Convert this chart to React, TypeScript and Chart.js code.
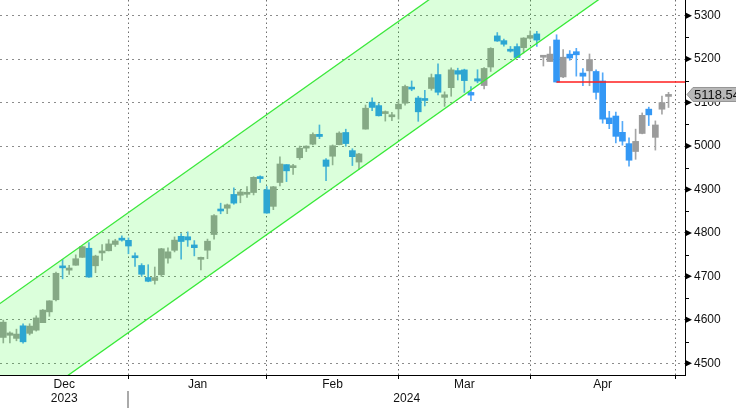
import React, { useEffect, useRef } from 'react';
import { Chart, registerables } from 'chart.js';

Chart.register(...registerables);

// ---- data ----
const dates = [
  '2023-12-01','2023-12-04','2023-12-05','2023-12-06','2023-12-07','2023-12-08','2023-12-11','2023-12-12','2023-12-13','2023-12-14',
  '2023-12-15','2023-12-18','2023-12-19','2023-12-20','2023-12-21','2023-12-22','2023-12-26','2023-12-27','2023-12-28','2023-12-29',
  '2024-01-02','2024-01-03','2024-01-04','2024-01-05','2024-01-08','2024-01-09','2024-01-10','2024-01-11','2024-01-12','2024-01-16',
  '2024-01-17','2024-01-18','2024-01-19','2024-01-22','2024-01-23','2024-01-24','2024-01-25','2024-01-26','2024-01-29','2024-01-30','2024-01-31',
  '2024-02-01','2024-02-02','2024-02-05','2024-02-06','2024-02-07','2024-02-08','2024-02-09','2024-02-12','2024-02-13','2024-02-14',
  '2024-02-15','2024-02-16','2024-02-20','2024-02-21','2024-02-22','2024-02-23','2024-02-26','2024-02-27','2024-02-28','2024-02-29',
  '2024-03-01','2024-03-04','2024-03-05','2024-03-06','2024-03-07','2024-03-08','2024-03-11','2024-03-12','2024-03-13','2024-03-14',
  '2024-03-15','2024-03-18','2024-03-19','2024-03-20','2024-03-21','2024-03-22','2024-03-25','2024-03-26','2024-03-27','2024-03-28',
  '2024-04-01','2024-04-02','2024-04-03','2024-04-04','2024-04-05','2024-04-08','2024-04-09','2024-04-10','2024-04-11','2024-04-12',
  '2024-04-15','2024-04-16','2024-04-17','2024-04-18','2024-04-19','2024-04-22','2024-04-23','2024-04-24','2024-04-25','2024-04-26','2024-04-29',
];

const openPrices = [
  4559.43, 4564.37, 4557.25, 4586.23, 4568.84, 4576.20, 4593.39, 4618.30, 4646.20, 4721.04, 4714.23, 4725.58, 4743.72, 4764.73, 4724.29, 4753.92, 4758.86, 4773.45, 4786.44, 4782.88,
  4745.20, 4725.07, 4697.42, 4690.57, 4703.70, 4741.93, 4759.94, 4792.13, 4791.18, 4772.35, 4739.13, 4760.10, 4796.28, 4853.42, 4856.80, 4888.56, 4886.66, 4888.91, 4892.95, 4925.89, 4899.19,
  4861.11, 4916.06, 4957.19, 4950.16, 4973.05, 4995.16, 5004.17, 5026.83, 4967.94, 4976.44, 5003.14, 5031.13, 4989.32, 4963.03, 5038.83, 5100.92, 5093.00, 5074.60, 5067.20, 5085.36,
  5098.51, 5130.99, 5110.52, 5108.03, 5132.38, 5164.46, 5111.96, 5134.30, 5173.49, 5175.14, 5123.31, 5154.77, 5139.09, 5181.69, 5253.43, 5242.48, 5219.52, 5228.85, 5226.31, 5248.03,
  5257.97, 5204.29, 5194.37, 5244.00, 5158.95, 5211.37, 5217.03, 5167.88, 5172.95, 5171.51, 5149.67, 5064.59, 5068.97, 5031.52, 5005.44, 4987.33, 5028.85, 5084.86, 5019.88, 5084.65, 5114.13,
];
const highPrices = [
  4599.39, 4572.37, 4578.56, 4590.74, 4590.92, 4609.23, 4623.71, 4643.93, 4709.69, 4738.57, 4725.53, 4749.52, 4768.69, 4778.01, 4748.71, 4772.94, 4784.72, 4785.39, 4793.30, 4788.43,
  4754.33, 4729.29, 4726.78, 4721.49, 4764.54, 4765.47, 4790.80, 4798.50, 4802.40, 4782.34, 4744.23, 4785.79, 4842.07, 4868.41, 4866.48, 4903.68, 4898.15, 4906.69, 4929.31, 4931.09, 4906.75,
  4906.97, 4975.29, 4957.19, 4957.77, 4999.89, 5000.40, 5030.06, 5048.39, 4971.30, 5002.52, 5032.72, 5038.70, 4993.71, 4983.21, 5094.39, 5111.06, 5097.66, 5080.69, 5077.37, 5104.99,
  5140.33, 5149.67, 5114.54, 5127.97, 5165.62, 5189.26, 5124.66, 5179.87, 5179.14, 5176.85, 5136.86, 5175.60, 5180.31, 5226.19, 5261.10, 5246.09, 5229.09, 5235.16, 5249.26, 5264.85,
  5263.95, 5208.34, 5228.75, 5256.00, 5222.18, 5219.57, 5224.81, 5178.43, 5211.78, 5175.03, 5168.43, 5079.84, 5077.96, 5056.66, 5019.02, 5038.84, 5076.12, 5089.48, 5057.75, 5114.62, 5123.49,
];
const lowPrices = [
  4546.72, 4546.71, 4551.68, 4546.50, 4565.22, 4574.06, 4593.39, 4608.09, 4643.23, 4694.34, 4704.69, 4725.58, 4743.72, 4697.82, 4708.35, 4736.77, 4758.45, 4768.90, 4780.98, 4751.99,
  4722.67, 4699.71, 4687.53, 4682.11, 4699.82, 4730.35, 4756.20, 4739.58, 4768.98, 4747.12, 4714.82, 4740.57, 4785.87, 4844.05, 4844.37, 4865.94, 4869.34, 4881.47, 4887.40, 4916.27, 4845.15,
  4853.52, 4907.99, 4918.09, 4934.88, 4969.05, 4987.09, 5002.52, 5016.83, 4920.31, 4956.45, 5002.64, 4999.52, 4955.02, 4946.00, 5038.83, 5081.46, 5068.91, 5057.29, 5058.35, 5061.89,
  5094.16, 5127.18, 5056.82, 5092.22, 5128.21, 5117.50, 5091.14, 5114.48, 5151.88, 5123.30, 5104.35, 5145.47, 5131.59, 5171.55, 5240.66, 5229.87, 5216.09, 5203.42, 5213.92, 5245.82,
  5229.20, 5184.05, 5194.37, 5146.54, 5157.21, 5197.35, 5160.78, 5138.70, 5138.77, 5107.94, 5052.47, 5039.83, 5007.25, 5001.89, 4953.56, 4969.40, 5027.96, 5047.02, 4990.58, 5073.14, 5088.65,
];
const closePrices = [
  4594.63, 4569.78, 4567.18, 4549.34, 4585.59, 4604.37, 4622.44, 4643.70, 4707.09, 4719.55, 4719.19, 4740.56, 4768.37, 4698.35, 4746.75, 4754.63, 4774.75, 4781.58, 4783.35, 4769.83,
  4742.83, 4704.81, 4688.68, 4697.24, 4763.54, 4756.50, 4783.45, 4780.24, 4783.83, 4765.98, 4739.21, 4780.94, 4839.81, 4850.43, 4864.60, 4868.55, 4894.16, 4890.97, 4927.93, 4924.97, 4845.65,
  4906.19, 4958.61, 4942.81, 4954.23, 4995.06, 4997.91, 5026.61, 5021.84, 4953.17, 5000.62, 5029.73, 5005.57, 4975.51, 4981.80, 5087.03, 5088.80, 5069.53, 5078.18, 5069.76, 5096.27,
  5137.08, 5130.95, 5078.65, 5104.76, 5157.36, 5123.69, 5117.94, 5175.27, 5165.31, 5150.48, 5117.09, 5149.42, 5178.51, 5224.62, 5241.53, 5234.18, 5218.19, 5203.58, 5248.49, 5254.35,
  5243.77, 5205.81, 5211.49, 5147.21, 5204.34, 5202.39, 5209.91, 5160.64, 5199.06, 5123.41, 5061.82, 5051.41, 5022.21, 5011.12, 4967.23, 5010.60, 5070.55, 5071.63, 5048.42, 5099.96, 5116.17,
];

const monthLabels = ['Dec', 'Jan', 'Feb', 'Mar', 'Apr'];
const monthEndIndex = [19, 40, 60, 80, 102];
const yearLabels = ['2023', '2024'];
const yTickValues = [4500, 4600, 4700, 4800, 4900, 5000, 5100, 5200, 5300];

// trend channel (two parallel lines, endpoints)
const channelX = [-1, 110];
const channelUpper = [4632.2, 5823.5];
const channelLower = [4356.0, 5547.3];

// horizontal level and last price
const levelStartIndex = 84;
const levelValue = 5147.21;
const lastPrice = 5118.54;

const X_MIN = -0.5;
const X_MAX = 103.5;
const Y_MIN = 4473;
const Y_MAX = 5336;

const FONT = '"Liberation Sans", Arial, sans-serif';
const UP = 'rgb(155,155,155)';
const DOWN = 'rgb(52,152,245)';
const UP_WICK = 'rgb(165,165,165)';
const DOWN_WICK = 'rgb(85,170,248)';

const decorPlugin = {
  id: 'decor',
  afterDraw(chart: any) {
    const { ctx, chartArea, scales } = chart;
    const x = scales.x;
    const y = scales.y;
    ctx.save();
    // y-axis markers
    ctx.fillStyle = '#000';
    for (const v of yTickValues) {
      const py = y.getPixelForValue(v);
      ctx.beginPath();
      ctx.moveTo(chartArea.right + 1, py - 3);
      ctx.lineTo(chartArea.right + 7, py);
      ctx.lineTo(chartArea.right + 1, py + 3);
      ctx.closePath();
      ctx.fill();
      const mid = v + 50;
      if (mid <= Y_MAX) {
        const pm = Math.round(y.getPixelForValue(mid));
        ctx.fillRect(chartArea.right, pm, 4, 1);
      }
    }
    // last price tag
    const ty = y.getPixelForValue(lastPrice);
    const left = chartArea.right + 2;
    ctx.beginPath();
    ctx.moveTo(left, ty);
    ctx.lineTo(left + 6, ty - 7);
    ctx.lineTo(chart.width + 2, ty - 7);
    ctx.lineTo(chart.width + 2, ty + 7);
    ctx.lineTo(left + 6, ty + 7);
    ctx.closePath();
    ctx.fillStyle = 'rgb(184,184,184)';
    ctx.fill();
    ctx.strokeStyle = 'rgb(150,150,150)';
    ctx.lineWidth = 1;
    ctx.stroke();
    ctx.fillStyle = '#111';
    ctx.font = `13px ${FONT}`;
    ctx.textAlign = 'left';
    ctx.textBaseline = 'middle';
    ctx.fillText(lastPrice.toFixed(2), left + 7, ty + 0.5);

    // month labels
    ctx.font = `12px ${FONT}`;
    ctx.fillStyle = '#111';
    ctx.textAlign = 'center';
    const bounds = [chartArea.left, ...monthEndIndex.map((i) => x.getPixelForValue(i))];
    monthLabels.forEach((m, k) => {
      ctx.fillText(m, (bounds[k] + bounds[k + 1]) / 2, chartArea.bottom + 10);
    });
    // year labels
    const sep = x.getPixelForValue(monthEndIndex[0]);
    ctx.fillText(yearLabels[0], (chartArea.left + sep) / 2, chartArea.bottom + 24);
    ctx.fillText(yearLabels[1], (sep + chartArea.right) / 2, chartArea.bottom + 24);
    ctx.fillStyle = 'rgb(170,170,170)';
    ctx.fillRect(Math.round(sep) - 1, chartArea.bottom + 16, 2, 17);
    ctx.restore();
  },
};

export default function App() {
  const canvasRef = useRef<HTMLCanvasElement | null>(null);

  useEffect(() => {
    const canvas = canvasRef.current;
    if (!canvas) return;
    const isUp = closePrices.map((c, i) => c >= openPrices[i]);
    const chart = new Chart(canvas, {
      type: 'bar',
      data: {
        datasets: [
          {
            type: 'line',
            label: 'Channel top',
            data: channelX.map((xv, i) => ({ x: xv, y: channelUpper[i] })),
            borderColor: 'rgb(60,232,60)',
            borderWidth: 1.3,
            pointRadius: 0,
            fill: '+1',
            backgroundColor: 'rgba(0,255,0,0.14)',
            order: 0,
          },
          {
            type: 'line',
            label: 'Channel bottom',
            data: channelX.map((xv, i) => ({ x: xv, y: channelLower[i] })),
            borderColor: 'rgb(60,232,60)',
            borderWidth: 1.3,
            pointRadius: 0,
            fill: false,
            order: 0,
          },
          {
            type: 'line',
            label: 'Level',
            data: [
              { x: levelStartIndex, y: levelValue },
              { x: channelX[1], y: levelValue },
            ],
            borderColor: 'rgb(255,30,30)',
            borderWidth: 1.5,
            pointRadius: 0,
            fill: false,
            order: 0,
          },
          {
            type: 'bar',
            label: 'Body',
            data: dates.map((_, i) => ({ x: i, y: [openPrices[i], closePrices[i]] })) as any,
            backgroundColor: isUp.map((u) => (u ? UP : DOWN)),
            borderWidth: 0,
            barThickness: 6,
            minBarLength: 2,
            grouped: false,
            order: 1,
          } as any,
          {
            type: 'bar',
            label: 'Wick',
            data: dates.map((_, i) => ({ x: i, y: [lowPrices[i], highPrices[i]] })) as any,
            backgroundColor: isUp.map((u) => (u ? UP_WICK : DOWN_WICK)),
            borderWidth: 0,
            barThickness: 1,
            grouped: false,
            order: 2,
          } as any,
        ],
      },
      options: {
        responsive: false,
        animation: false,
        devicePixelRatio: 1,
        layout: { padding: 0 },
        plugins: { legend: { display: false }, tooltip: { enabled: false } },
        scales: {
          x: {
            type: 'linear',
            min: X_MIN,
            max: X_MAX,
            offset: false,
            afterBuildTicks: (s: any) => {
              s.ticks = monthEndIndex.map((v) => ({ value: v }));
            },
            ticks: { display: false },
            grid: {
              offset: false,
              color: 'rgb(110,110,110)',
              lineWidth: 1,
              drawTicks: true,
              tickLength: 4,
              tickColor: '#000',
            },
            border: { display: true, color: '#000', width: 1, dash: [1.5, 3] },
            afterFit: (s: any) => {
              s.height = 34;
              s.paddingLeft = 0;
              s.paddingRight = 0;
            },
          },
          y: {
            type: 'linear',
            position: 'right',
            min: Y_MIN,
            max: Y_MAX,
            beginAtZero: false,
            afterBuildTicks: (s: any) => {
              s.ticks = yTickValues.map((v) => ({ value: v }));
            },
            ticks: {
              padding: 9,
              color: '#111',
              font: { family: FONT, size: 12 },
              callback: (v: any) => String(v),
            },
            grid: { color: 'rgb(140,140,140)', lineWidth: 1, drawTicks: false },
            border: { display: true, color: '#000', width: 1, dash: [2, 4] },
            afterFit: (s: any) => {
              s.width = 51;
              s.paddingTop = 0;
              s.paddingBottom = 0;
            },
          },
        } as any,
      },
      plugins: [decorPlugin],
    });
    return () => chart.destroy();
  }, []);

  return (
    <div style={{ position: 'absolute', left: 0, top: 0, width: 736, height: 409, background: '#fff' }}>
      <canvas ref={canvasRef} width={736} height={409} style={{ display: 'block' }} />
    </div>
  );
}
